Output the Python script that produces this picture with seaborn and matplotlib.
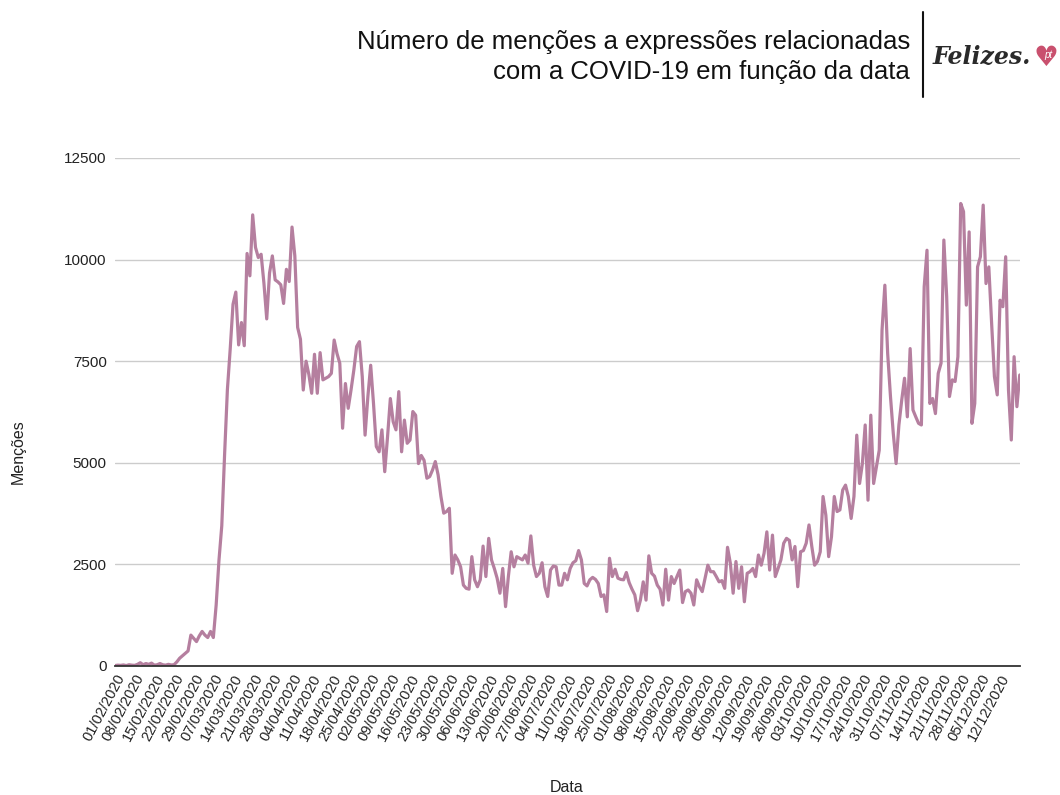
import numpy as np
import pandas as pd
import matplotlib
matplotlib.use("Agg")
import matplotlib.pyplot as plt
import seaborn as sns

# Menções diárias, a partir de 01/02/2020
mencoes = [
    10, 20, 15, 25, 10, 30, 20, 15, 40, 80, 30, 60, 40, 70, 20, 30, 60, 30, 20, 40, 25,
    30, 100, 190, 250, 310, 370, 760, 680, 600, 740, 850, 760, 700, 850, 700,
    1500, 2600, 3450, 5200, 6800, 7800, 8900, 9200, 7900, 8450, 7880, 10150, 9600, 11100,
    10300, 10050, 10130, 9420, 8540, 9670, 10090, 9500, 9450, 9380, 8920, 9760, 9460, 10800, 10090,
    8330, 8040, 6790, 7500, 7170, 6710, 7670, 6710, 7710, 7040, 7080, 7120, 7200, 8020, 7690,
    7450, 5850, 6950,
    6340, 6790, 7280, 7860, 7980, 7120, 5680, 6630, 7400, 6460, 5400, 5270, 5810, 4780, 5640,
    6580, 6010, 5810, 6750, 5270, 6050, 5480, 5560, 6260, 6170, 4980, 5180, 5060, 4620, 4660,
    4820, 5030, 4700, 4170, 3760, 3800, 3880, 2280, 2730, 2610, 2440, 1990, 1910, 1890, 2690,
    2120, 1950, 2120, 2950, 2200, 3140, 2610, 2400, 2160, 1790, 2400, 1460, 2200, 2810, 2440,
    2690, 2650, 2610, 2730, 2530, 3200, 2480, 2200, 2280, 2540, 1950, 1710, 2360, 2460, 2440,
    1990,
    1990, 2280, 2120, 2400, 2540, 2590, 2840, 2610, 2030, 1970, 2120, 2180, 2130, 2030, 1710,
    1750, 1340, 2650, 2200, 2380, 2160, 2130, 2120, 2300, 2050, 1890, 1750, 1360, 1620, 2070,
    1620, 2710, 2280, 2210, 1990, 1890, 1500, 2380, 1620, 2200, 2030, 2200, 2360, 1560, 1830,
    1870, 1790, 1500, 2120, 1950, 1830, 2160, 2480, 2320, 2320, 2200, 2070, 2100, 1910, 2920,
    2530, 1790, 2570, 1910, 2440, 1580, 2280, 2320, 2400, 2200, 2730, 2480, 2770, 3300, 2360,
    3220, 2200, 2400, 2610, 3020, 3140,
    3090, 2610, 2940, 1950, 2810, 2840, 3020, 3470, 2940, 2480, 2570, 2810, 4170, 3710, 2690,
    3180, 4170, 3800, 3840, 4330, 4450, 4170, 3630, 4170, 5680, 4490, 4980, 5930, 4080, 6170,
    4490, 4900, 5310, 8270, 9370, 7690, 6630, 5720, 4980, 5930, 6540, 7080, 6130, 7810, 6300,
    6130, 5970, 5930, 9330, 10230, 6460, 6580, 6210, 7200, 7450, 10480, 9090, 6630, 7040, 7000,
    7610, 11380, 11180, 8880, 10680, 5970, 6460, 9820, 10070, 11340, 9410, 9820, 8430, 7120, 6670,
    9000, 8840, 10070, 6790, 5560, 7610, 6380, 7160,
]
data_inicio = "2020-02-01"
y_ticks = [0, 2500, 5000, 7500, 10000, 12500]
titulo = "Número de menções a expressões relacionadas\ncom a COVID-19 em função da data"

datas = pd.date_range(data_inicio, periods=len(mencoes), freq="D")
df = pd.DataFrame({"Data": datas, "Menções": mencoes})

sns.set_theme(style="whitegrid")
plt.rcParams["font.family"] = ["Liberation Sans", "DejaVu Sans"]

fig = plt.figure(figsize=(10.6, 7.95), dpi=100)
ax = fig.add_axes([0.1085, 0.1623, 0.8535, 0.639])

sns.lineplot(data=df, x="Data", y="Menções", ax=ax, color="#b57f9f", linewidth=2.3)

ax.set_ylim(0, 12500)
ax.set_yticks(y_ticks)
ax.set_yticklabels([str(v) for v in y_ticks], fontsize=11, color="#222222")
ax.set_xlim(datas[0], datas[-1])

# Rótulos semanais (o último é 12/12/2020)
semanas = datas[:-1:7]
ax.set_xticks(semanas)
ax.set_xticklabels([d.strftime("%d/%m/%Y") for d in semanas], rotation=62,
                   ha="right", rotation_mode="anchor", fontsize=10.5, color="#222222")
ax.tick_params(axis="both", length=0, pad=6)
ax.tick_params(axis="x", pad=4)

ax.grid(axis="x", visible=False)
ax.grid(axis="y", color="#cccccc", linewidth=1.0)
for s in ["top", "right", "left"]:
    ax.spines[s].set_visible(False)
ax.spines["bottom"].set_color("#333333")
ax.spines["bottom"].set_linewidth(1.3)
ax.set_xlabel("")
ax.set_ylabel("")

fig.text(18 / 1060, 1 - 452 / 795, "Menções", rotation=90, ha="center", va="center",
         fontsize=11.5, color="#222222")
fig.text(567 / 1060, 1 - 788 / 795, "Data", ha="center", va="center",
         fontsize=11.5, color="#222222")

# Título e logótipo
fig.text(910 / 1060, 1 - 57 / 795, titulo, ha="right", va="center", fontsize=18.5,
         color="#111111", linespacing=1.32)
fig.add_artist(plt.Line2D([923 / 1060, 923 / 1060], [1 - 12 / 795, 1 - 97 / 795],
                          color="#111111", linewidth=1.5))
fig.text(933 / 1060, 1 - 57 / 795, "Felizes.", ha="left", va="center", fontsize=17,
         fontstyle="italic", fontweight="bold", family="DejaVu Serif", color="#2a2a2a")
fig.text(1046 / 1060, 1 - 58 / 795, "\u2665", ha="center", va="center", fontsize=20,
         family="DejaVu Sans", color="#c9506e")
fig.text(1048 / 1060, 1 - 55 / 795, "pt", ha="center", va="center", fontsize=7,
         fontstyle="italic", color="white")

fig.savefig("out.png", dpi=100, facecolor="white")
